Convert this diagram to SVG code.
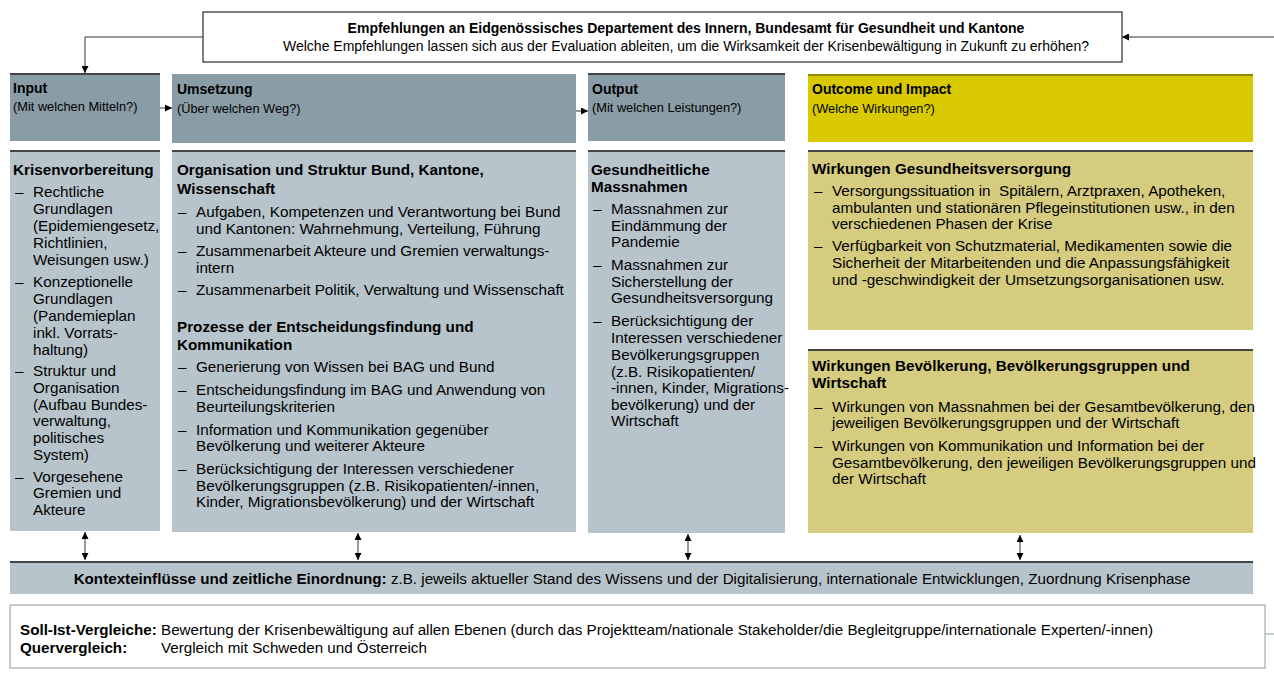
<svg xmlns="http://www.w3.org/2000/svg" width="1274" height="680" viewBox="0 0 1274 680">
<defs>
<style>
text{font-family:"Liberation Sans",Arial,sans-serif;fill:#000}
.t{font-size:14px}
.f{font-size:15.2px}
.b{font-weight:bold}
.h{font-size:14px;font-weight:bold}
.s{font-size:12.8px}
.c{font-size:15.25px}
.ct{font-size:15.25px;font-weight:bold}
.hdr{fill:#8a9ca6}
.yel{fill:#d8c900}
.lt{fill:#b8c4cb}
.kh{fill:#d6cc80}
.top{stroke:#444;stroke-width:2}
.ln{stroke:#333;stroke-width:1;fill:none}
</style>
<marker id="ah" viewBox="0 0 10 10" refX="10" refY="5" markerWidth="7" markerHeight="7" orient="auto-start-reverse" markerUnits="userSpaceOnUse"><path d="M0,0 L10,5 L0,10 z" fill="#000"/></marker>
</defs>
<rect width="1274" height="680" fill="#fff"/>

<g id="recommendations">
<rect x="203" y="12" width="919" height="50" fill="#fff" stroke="#000" stroke-width="1"/>
<text class="t b" x="686" y="33" text-anchor="middle">Empfehlungen an Eidgenössisches Departement des Innern, Bundesamt für Gesundheit und Kantone</text>
<text class="t" x="686" y="51" text-anchor="middle">Welche Empfehlungen lassen sich aus der Evaluation ableiten, um die Wirksamkeit der Krisenbewältigung in Zukunft zu erhöhen?</text>
</g>

<g id="input-header">
<rect class="hdr" x="10" y="73" width="150" height="68"/>
<line class="top" x1="10" y1="74" x2="160" y2="74"/>
<text class="h" x="13" y="93">Input</text>
<text class="s" x="13" y="111">(Mit welchen Mitteln?)</text>
</g>
<g id="umsetzung-header">
<rect class="hdr" x="172" y="74" width="404" height="69"/>
<text class="h" x="177" y="94">Umsetzung</text>
<text class="s" x="177" y="113">(Über welchen Weg?)</text>
</g>
<g id="output-header">
<rect class="hdr" x="588" y="73" width="197" height="68"/>
<line class="top" x1="588" y1="74" x2="785" y2="74"/>
<text class="h" x="592" y="94">Output</text>
<text class="s" x="592" y="112">(Mit welchen Leistungen?)</text>
</g>
<g id="outcome-header">
<rect class="yel" x="808" y="74" width="445" height="68"/>
<line x1="808" y1="75" x2="1253" y2="75" stroke="#7a7000" stroke-width="1.5"/>
<text class="h" x="812" y="94">Outcome und Impact</text>
<text class="s" x="812" y="113">(Welche Wirkungen?)</text>
</g>

<g id="input-content">
<rect class="lt" x="10" y="150" width="150" height="381"/>
<line class="top" x1="10" y1="151" x2="160" y2="151"/>
<text class="ct" x="13" y="175">Krisenvorbereitung</text>
<g class="c">
<text x="15" y="197">–</text>
<text x="33" y="197">Rechtliche</text>
<text x="33" y="214">Grundlagen</text>
<text x="33" y="231">(Epidemiengesetz,</text>
<text x="33" y="248">Richtlinien,</text>
<text x="33" y="265">Weisungen usw.)</text>
<text x="15" y="287">–</text>
<text x="33" y="287">Konzeptionelle</text>
<text x="33" y="304">Grundlagen</text>
<text x="33" y="321">(Pandemieplan</text>
<text x="33" y="338">inkl. Vorrats-</text>
<text x="33" y="355">haltung)</text>
<text x="15" y="376">–</text>
<text x="33" y="376">Struktur und</text>
<text x="33" y="393">Organisation</text>
<text x="33" y="410">(Aufbau Bundes-</text>
<text x="33" y="426">verwaltung,</text>
<text x="33" y="443">politisches</text>
<text x="33" y="460">System)</text>
<text x="15" y="482">–</text>
<text x="33" y="482">Vorgesehene</text>
<text x="33" y="498">Gremien und</text>
<text x="33" y="515">Akteure</text>
</g>
</g>

<g id="umsetzung-content">
<rect class="lt" x="172" y="150" width="404" height="382"/>
<line class="top" x1="172" y1="151" x2="576" y2="151"/>
<text class="ct" x="177" y="175">Organisation und Struktur Bund, Kantone,</text>
<text class="ct" x="177" y="194">Wissenschaft</text>
<g class="c">
<text x="178" y="217">–</text>
<text x="196" y="217">Aufgaben, Kompetenzen und Verantwortung bei Bund</text>
<text x="196" y="234">und Kantonen: Wahrnehmung, Verteilung, Führung</text>
<text x="178" y="256">–</text>
<text x="196" y="256">Zusammenarbeit Akteure und Gremien verwaltungs-</text>
<text x="196" y="273">intern</text>
<text x="178" y="295">–</text>
<text x="196" y="295">Zusammenarbeit Politik, Verwaltung und Wissenschaft</text>
</g>
<text class="ct" x="177" y="332">Prozesse der Entscheidungsfindung und</text>
<text class="ct" x="177" y="350">Kommunikation</text>
<g class="c">
<text x="178" y="372">–</text>
<text x="196" y="372">Generierung von Wissen bei BAG und Bund</text>
<text x="178" y="395">–</text>
<text x="196" y="395">Entscheidungsfindung im BAG und Anwendung von</text>
<text x="196" y="412">Beurteilungskriterien</text>
<text x="178" y="435">–</text>
<text x="196" y="435">Information und Kommunikation gegenüber</text>
<text x="196" y="451">Bevölkerung und weiterer Akteure</text>
<text x="178" y="474">–</text>
<text x="196" y="474">Berücksichtigung der Interessen verschiedener</text>
<text x="196" y="491">Bevölkerungsgruppen (z.B. Risikopatienten/-innen,</text>
<text x="196" y="507">Kinder, Migrationsbevölkerung) und der Wirtschaft</text>
</g>
</g>

<g id="output-content">
<rect class="lt" x="588" y="150" width="197" height="383"/>
<line class="top" x1="588" y1="151" x2="785" y2="151"/>
<text class="ct" x="591" y="175">Gesundheitliche</text>
<text class="ct" x="591" y="192">Massnahmen</text>
<g class="c">
<text x="593" y="214">–</text>
<text x="611" y="214">Massnahmen zur</text>
<text x="611" y="231">Eindämmung der</text>
<text x="611" y="247">Pandemie</text>
<text x="593" y="270">–</text>
<text x="611" y="270">Massnahmen zur</text>
<text x="611" y="287">Sicherstellung der</text>
<text x="611" y="303">Gesundheitsversorgung</text>
<text x="593" y="326">–</text>
<text x="611" y="326">Berücksichtigung der</text>
<text x="611" y="343">Interessen verschiedener</text>
<text x="611" y="360">Bevölkerungsgruppen</text>
<text x="611" y="377">(z.B. Risikopatienten/</text>
<text x="611" y="393">-innen, Kinder, Migrations-</text>
<text x="611" y="410">bevölkerung) und der</text>
<text x="611" y="426">Wirtschaft</text>
</g>
</g>

<g id="outcome-health">
<rect class="kh" x="808" y="150" width="445" height="180"/>
<line class="top" x1="808" y1="151" x2="1253" y2="151"/>
<text class="ct" x="812" y="174">Wirkungen Gesundheitsversorgung</text>
<g class="c">
<text x="814" y="196">–</text>
<text x="832" y="196" xml:space="preserve">Versorgungssituation in  Spitälern, Arztpraxen, Apotheken,</text>
<text x="832" y="213">ambulanten und stationären Pflegeinstitutionen usw., in den</text>
<text x="832" y="229">verschiedenen Phasen der Krise</text>
<text x="814" y="251">–</text>
<text x="832" y="251">Verfügbarkeit von Schutzmaterial, Medikamenten sowie die</text>
<text x="832" y="268">Sicherheit der Mitarbeitenden und die Anpassungsfähigkeit</text>
<text x="832" y="285">und -geschwindigkeit der Umsetzungsorganisationen usw.</text>
</g>
</g>

<g id="outcome-population">
<rect class="kh" x="808" y="349" width="445" height="184"/>
<line class="top" x1="808" y1="350" x2="1253" y2="350"/>
<text class="ct" x="812" y="371">Wirkungen Bevölkerung, Bevölkerungsgruppen und</text>
<text class="ct" x="812" y="388">Wirtschaft</text>
<g class="c">
<text x="814" y="412">–</text>
<text x="832" y="412">Wirkungen von Massnahmen bei der Gesamtbevölkerung, den</text>
<text x="832" y="428">jeweiligen Bevölkerungsgruppen und der Wirtschaft</text>
<text x="814" y="451">–</text>
<text x="832" y="451">Wirkungen von Kommunikation und Information bei der</text>
<text x="832" y="468">Gesamtbevölkerung, den jeweiligen Bevölkerungsgruppen und</text>
<text x="832" y="484">der Wirtschaft</text>
</g>
</g>

<g id="context">
<rect class="lt" x="10" y="561" width="1243" height="33"/>
<line class="top" x1="10" y1="562" x2="1253" y2="562"/>
<text class="f" x="632" y="584" text-anchor="middle"><tspan class="b">Kontexteinflüsse und zeitliche Einordnung:</tspan> z.B. jeweils aktueller Stand des Wissens und der Digitalisierung, internationale Entwicklungen, Zuordnung Krisenphase</text>
</g>

<g id="comparisons">
<rect x="10" y="605" width="1255" height="63" fill="#fff" stroke="#8a9aa3" stroke-width="1"/>
<text class="f b" x="20" y="635">Soll-Ist-Vergleiche:</text>
<text class="f" x="161" y="635">Bewertung der Krisenbewältigung auf allen Ebenen (durch das Projektteam/nationale Stakeholder/die Begleitgruppe/internationale Experten/-innen)</text>
<text class="f b" x="20" y="653">Quervergleich:</text>
<text class="f" x="161" y="653">Vergleich mit Schweden und Österreich</text>
</g>

<g id="connectors">
<polyline class="ln" points="203,37 85,37 85,73" marker-end="url(#ah)"/>
<line class="ln" x1="1274" y1="37" x2="1122" y2="37" marker-end="url(#ah)"/>
<line class="ln" x1="160" y1="108" x2="172" y2="108" marker-end="url(#ah)"/>
<line class="ln" x1="576" y1="111" x2="588" y2="111" marker-end="url(#ah)"/>
<line class="ln" x1="85" y1="532" x2="85" y2="560" marker-start="url(#ah)" marker-end="url(#ah)"/>
<line class="ln" x1="358" y1="533" x2="358" y2="560" marker-start="url(#ah)" marker-end="url(#ah)"/>
<line class="ln" x1="688" y1="534" x2="688" y2="560" marker-start="url(#ah)" marker-end="url(#ah)"/>
<line class="ln" x1="1020" y1="535" x2="1020" y2="560" marker-start="url(#ah)" marker-end="url(#ah)"/>
<line x1="1265" y1="634" x2="1274" y2="634" stroke="#8a9aa3" stroke-width="1"/>
</g>
</svg>
